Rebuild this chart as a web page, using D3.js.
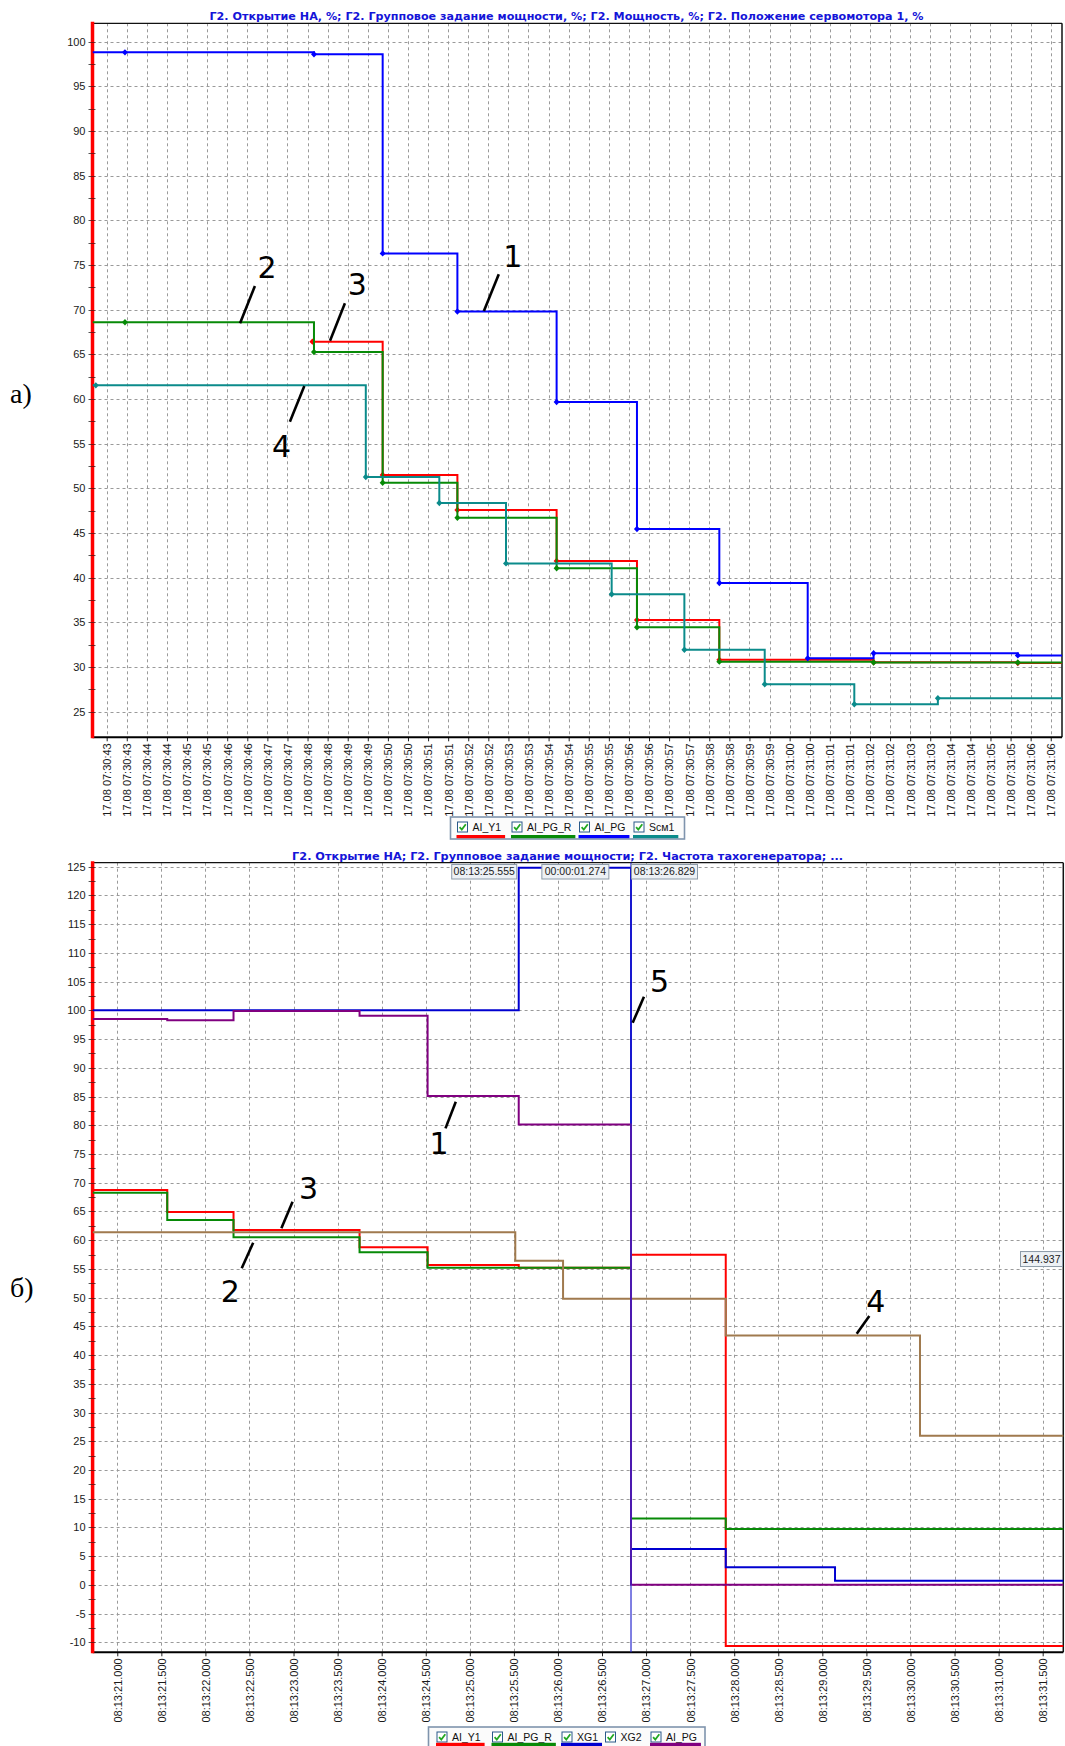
<!DOCTYPE html>
<html><head><meta charset="utf-8">
<script src="https://cdn.jsdelivr.net/npm/d3@7"></script>
<style>body{margin:0;background:#fff} svg{display:block}</style>
</head><body>
<svg id="c" width="1065" height="1746"></svg>
<script>
// ---------------- DATA ----------------
// Panel a) : time in seconds after 17.08 07:30:43.000
const topTitle = "Г2. Открытие НА, %; Г2. Групповое задание мощности, %; Г2. Мощность, %; Г2. Положение сервомотора 1, %";
const topTickLabels = ["17.08 07:30:43","17.08 07:30:43","17.08 07:30:44","17.08 07:30:44","17.08 07:30:45","17.08 07:30:45","17.08 07:30:46","17.08 07:30:46","17.08 07:30:47","17.08 07:30:47","17.08 07:30:48","17.08 07:30:48","17.08 07:30:49","17.08 07:30:49","17.08 07:30:50","17.08 07:30:50","17.08 07:30:51","17.08 07:30:51","17.08 07:30:52","17.08 07:30:52","17.08 07:30:53","17.08 07:30:53","17.08 07:30:54","17.08 07:30:54","17.08 07:30:55","17.08 07:30:55","17.08 07:30:56","17.08 07:30:56","17.08 07:30:57","17.08 07:30:57","17.08 07:30:58","17.08 07:30:58","17.08 07:30:59","17.08 07:30:59","17.08 07:31:00","17.08 07:31:00","17.08 07:31:01","17.08 07:31:01","17.08 07:31:02","17.08 07:31:02","17.08 07:31:03","17.08 07:31:03","17.08 07:31:04","17.08 07:31:04","17.08 07:31:05","17.08 07:31:05","17.08 07:31:06","17.08 07:31:06"];
const topYTicks = [25,30,35,40,45,50,55,60,65,70,75,80,85,90,95,100];
const topXDomain = [-0.353, 23.78];
const topYDomain = [22.13, 102.06];
const topAI_Y1  = [[5.12,66.42],[6.87,51.5],[8.73,47.58],[11.2,41.87],[13.2,35.26],[15.25,30.8],[19.09,30.53],[22.68,30.45]];
const topAI_PG_R = [[-0.353,68.59],[0.455,68.59],[5.16,65.26],[6.87,50.63],[8.73,46.7],[11.2,41.05],[13.2,34.45],[15.25,30.6],[19.09,30.5],[22.68,30.5]];
const topAI_PG  = [[-0.353,98.81],[0.455,98.81],[5.16,98.59],[6.87,76.3],[8.73,69.8],[11.2,59.67],[13.2,45.45],[15.25,39.4],[17.45,30.97],[19.09,31.54],[22.68,31.3]];
const topScm1   = [[-0.353,61.53],[-0.27,61.53],[6.45,51.27],[8.28,48.36],[9.94,41.6],[12.57,38.14],[14.38,31.93],[16.38,28.07],[18.61,25.83],[20.69,26.5]];
const topLegend = ["AI_Y1","AI_PG_R","AI_PG","Scм1"];
// annotations a): [label, textT, textV, lineT1, lineV1, lineT2, lineV2]
const topNotes = [["1",10.11,74.78,9.76,73.96,9.39,69.85],["2",3.99,73.55,3.69,72.65,3.32,68.48],["3",6.24,71.64,5.93,70.72,5.56,66.53],["4",4.35,53.51,4.92,61.46,4.56,57.46]];

// Panel б) : time in seconds within 08:13
const botTitle = "Г2. Открытие НА; Г2. Групповое задание мощности; Г2. Частота тахогенератора; ...";
const botTickLabels = ["08:13:21.000","08:13:21.500","08:13:22.000","08:13:22.500","08:13:23.000","08:13:23.500","08:13:24.000","08:13:24.500","08:13:25.000","08:13:25.500","08:13:26.000","08:13:26.500","08:13:27.000","08:13:27.500","08:13:28.000","08:13:28.500","08:13:29.000","08:13:29.500","08:13:30.000","08:13:30.500","08:13:31.000","08:13:31.500"];
const botYTicks = [-10,-5,0,5,10,15,20,25,30,35,40,45,50,55,60,65,70,75,80,85,90,95,100,105,110,115,120,125];
const botXDomain = [20.72, 31.734];
const botYDomain = [-11.74, 125.7];
const botAI_Y1  = [[20.72,68.72],[21.567,64.9],[22.319,61.76],[23.749,58.75],[24.521,55.67],[25.555,55.2],[26.829,57.45],[27.904,-10.64]];
const botAI_PG_R = [[20.72,68.26],[21.567,63.5],[22.319,60.5],[23.749,57.88],[24.521,55.2],[26.829,11.56],[27.904,9.73]];
const botXG1    = [[20.72,100],[25.555,124.8],[26.829,6.22],[27.904,3.05],[29.144,0.73]];
const botXG2    = [[20.72,61.36],[25.516,56.42],[26.058,49.79],[27.904,43.4],[30.108,25.96]];
const botAI_PG  = [[20.72,98.49],[21.567,98.26],[22.319,99.88],[23.749,99.07],[24.521,85.09],[25.555,80.15],[26.829,0]];
const botLegend = ["AI_Y1","AI_PG_R","XG1","XG2","AI_PG"];
const cursorTimes = [25.555, 26.829];
const cursorTexts = ["08:13:25.555","00:00:01.274","08:13:26.829"];
const readoutValue = "144.937";
const botNotes = [["1",24.650,74.99,24.841,84.09,24.724,79.46],["5",27.152,103.24,26.976,102.37,26.848,97.85],["3",23.170,67.16,22.989,66.69,22.862,62.06],["2",22.282,49.28,22.542,59.55,22.412,55.10],["4",29.607,47.54,29.533,46.79,29.390,43.71]];

// ---------------- DRAWING ----------------
const svg = d3.select('#c');
const C = {red:"#ff0000", green:"#078a07", blue:"#0000ff", teal:"#0b8b8b", dblue:"#0000d0", purple:"#800080", brown:"#a07a4e"};

function panel(o){
  const x = d3.scaleLinear().domain(o.xDomain).range([o.left, o.right]);
  const y = d3.scaleLinear().domain(o.yDomain).range([o.bottom, o.top]);
  const g = svg.append('g');
  const cid = 'clip' + o.id;
  svg.append('clipPath').attr('id', cid).append('rect')
    .attr('x', o.left).attr('y', o.top).attr('width', o.right - o.left).attr('height', o.bottom - o.top);
  const crisp = v => Math.round(v) + 0.5;
  // grid
  g.append('g').selectAll('line').data(o.yTicks).join('line')
    .attr('x1', o.left).attr('x2', o.right).attr('y1', d => crisp(y(d))).attr('y2', d => crisp(y(d)))
    .attr('stroke', '#9a9a9a').attr('stroke-dasharray', '3,3');
  g.append('g').selectAll('line').data(o.xTicks).join('line')
    .attr('y1', o.top).attr('y2', o.bottom).attr('x1', d => crisp(x(d))).attr('x2', d => crisp(x(d)))
    .attr('stroke', '#9a9a9a').attr('stroke-dasharray', '3,3');
  // border
  g.append('line').attr('x1', o.left).attr('x2', o.right).attr('y1', o.top).attr('y2', o.top).attr('stroke', '#111').attr('stroke-width', 1.2);
  g.append('line').attr('x1', o.right).attr('x2', o.right).attr('y1', o.top).attr('y2', o.bottom).attr('stroke', '#111').attr('stroke-width', 1.5);
  // y axis
  const ya = g.append('g').attr('transform', `translate(${o.left},0)`)
    .call(d3.axisLeft(y).tickValues(o.yTicks).tickSize(0).tickPadding(7).tickFormat(d => String(d)));
  ya.select('.domain').remove();
  ya.selectAll('text').attr('font-family', 'Liberation Sans, Arial, sans-serif').attr('font-size', 11).attr('fill', '#1a1a1a');
  // x axis
  const xa = g.append('g').attr('transform', `translate(0,${o.bottom})`)
    .call(d3.axisBottom(x).tickValues(o.xTicks).tickSize(4).tickFormat((d, i) => o.xLabels[i]));
  xa.select('.domain').remove();
  xa.selectAll('line').attr('stroke', '#222');
  xa.selectAll('text').attr('font-family', 'Liberation Sans, Arial, sans-serif').attr('font-size', 11).attr('fill', '#1a1a1a')
    .attr('transform', 'rotate(-90)').attr('x', -6).attr('y', 0).attr('dy', '0.35em').style('text-anchor', 'end');
  g.append('line').attr('x1', o.left).attr('x2', o.right).attr('y1', o.bottom).attr('y2', o.bottom).attr('stroke', '#000').attr('stroke-width', 2);
  // small ticks on red axis
  const minor = d3.range(o.yTicks[0], o.yTicks[o.yTicks.length - 1] + 0.01, 2.5);
  g.append('g').selectAll('line').data(minor).join('line')
    .attr('x1', o.left - 4).attr('x2', o.left + 3).attr('y1', d => crisp(y(d))).attr('y2', d => crisp(y(d))).attr('stroke', '#555');
  // red left axis
  g.append('line').attr('x1', o.left).attr('x2', o.left).attr('y1', o.top - 1.5).attr('y2', o.bottom + 1).attr('stroke', '#ff0000').attr('stroke-width', 3.5);
  g.selectAll('.rt').data(minor).join('line')
    .attr('x1', o.left - 1.8).attr('x2', o.left + 1.8).attr('y1', d => crisp(y(d))).attr('y2', d => crisp(y(d))).attr('stroke', '#7a1010').attr('stroke-width', 1);
  // title
  g.append('text').attr('x', o.titleX).attr('y', o.titleY).attr('text-anchor', 'middle')
    .attr('font-family', 'DejaVu Sans, sans-serif').attr('font-weight', 'bold').attr('font-size', 11)
    .attr('fill', '#1414d8').attr('textLength', o.titleW).attr('lengthAdjust', 'spacingAndGlyphs').text(o.title);
  // series
  const sg = g.append('g').attr('clip-path', `url(#${cid})`);
  const line = d3.line().x(d => x(d[0])).y(d => y(d[1])).curve(d3.curveStepAfter);
  o.series.forEach(s => {
    const pts = s.data.concat([[o.xDomain[1] + 0.5, s.data[s.data.length - 1][1]]]);
    sg.append('path').attr('d', line(pts)).attr('fill', 'none').attr('stroke', s.color).attr('stroke-width', s.w || 2);
    if (s.markers) {
      sg.append('g').selectAll('path').data(s.data.filter(d => d[0] > o.xDomain[0] + 0.001)).join('path')
        .attr('transform', d => `translate(${x(d[0])},${y(d[1])})`)
        .attr('d', 'M0,-3.2L3,0L0,3.2L-3,0Z').attr('fill', s.color);
    }
  });
  return {x, y, g, sg};
}

function notes(p, list){
  list.forEach(n => {
    p.g.append('line').attr('x1', p.x(n[3])).attr('y1', p.y(n[4])).attr('x2', p.x(n[5])).attr('y2', p.y(n[6]))
      .attr('stroke', '#000').attr('stroke-width', 2.6);
    p.g.append('text').attr('x', p.x(n[1])).attr('y', p.y(n[2])).attr('text-anchor', 'middle')
      .attr('font-family', 'DejaVu Sans, sans-serif').attr('font-size', 30).attr('fill', '#000').text(n[0]);
  });
}

function legend(items, starts, bx, by, bw, bh, ulY){
  const lg = svg.append('g');
  lg.append('rect').attr('x', bx).attr('y', by).attr('width', bw).attr('height', bh)
    .attr('fill', '#fbfbfb').attr('stroke', '#7f94ad').attr('stroke-width', 1.6);
  items.forEach((it, i) => {
    const cx = starts[i];
    const cy = by + 4.5;
    lg.append('rect').attr('x', cx + 0.5).attr('y', cy + 0.5).attr('width', 10).attr('height', 10)
      .attr('fill', '#fff').attr('stroke', '#2a5a8a');
    lg.append('path').attr('d', `M${cx+2.6},${cy+5.6}L${cx+4.8},${cy+8}L${cx+8.8},${cy+2.8}`)
      .attr('fill', 'none').attr('stroke', '#22a822').attr('stroke-width', 1.8);
    const t = lg.append('text').attr('x', cx + 15.5).attr('y', cy + 9.5)
      .attr('font-family', 'Liberation Sans, Arial, sans-serif').attr('font-size', 10.5).attr('fill', '#111').text(it.name);
    const w = t.node().getComputedTextLength();
    if (it.color) lg.append('rect').attr('x', cx - 0.5).attr('y', ulY - 1.5).attr('width', w + 20).attr('height', 3.2).attr('fill', it.color);
  });
}

function box(xl, yt, w, h, text){
  svg.append('rect').attr('x', xl + 0.5).attr('y', yt + 0.5).attr('width', w).attr('height', h)
    .attr('fill', '#edf1f5').attr('stroke', '#8c9aa8');
  svg.append('text').attr('x', xl + w / 2 + 0.5).attr('y', yt + h / 2 + 4)
    .attr('text-anchor', 'middle').attr('font-family', 'Liberation Sans, Arial, sans-serif').attr('font-size', 10.5)
    .attr('fill', '#222').text(text);
}

// ----- panel a)
const pA = panel({
  id: 'a', left: 92.5, right: 1062, top: 23.3, bottom: 737.3,
  xDomain: topXDomain, yDomain: topYDomain, yTicks: topYTicks,
  xTicks: topTickLabels.map((d, i) => i * 0.5), xLabels: topTickLabels,
  title: topTitle, titleX: 566.5, titleY: 20, titleW: 714,
  series: [
    {data: topAI_Y1, color: C.red, markers: true},
    {data: topAI_PG_R, color: C.green, markers: true},
    {data: topAI_PG, color: C.blue, markers: true},
    {data: topScm1, color: C.teal, markers: true}
  ]
});
notes(pA, topNotes);
legend([{name: topLegend[0], color: C.red}, {name: topLegend[1], color: C.green}, {name: topLegend[2], color: C.blue}, {name: topLegend[3], color: C.teal}],
  [457, 511.5, 579, 633.5], 450.5, 817, 234, 22, 836.5);

// ----- panel б)
const pB = panel({
  id: 'b', left: 92.6, right: 1063.3, top: 862.7, bottom: 1652.3,
  xDomain: botXDomain, yDomain: botYDomain, yTicks: botYTicks,
  xTicks: botTickLabels.map((d, i) => 21 + i * 0.5), xLabels: botTickLabels,
  title: botTitle, titleX: 567.6, titleY: 860, titleW: 551,
  series: [
    {data: botAI_Y1, color: C.red},
    {data: botAI_PG_R, color: C.green},
    {data: botXG1, color: C.dblue},
    {data: botXG2, color: C.brown},
    {data: botAI_PG, color: C.purple}
  ]
});
// cursor line
pB.g.append('line').attr('x1', pB.x(cursorTimes[1])).attr('x2', pB.x(cursorTimes[1]))
  .attr('y1', 862.7).attr('y2', 1652.3).attr('stroke', '#2a2ad0').attr('stroke-width', 1.2);
notes(pB, botNotes);
{
  const x1 = pB.x(cursorTimes[0]), x2 = pB.x(cursorTimes[1]);
  box(x1 - 67.5, 864, 65, 14.5, cursorTexts[0]);
  box((x1 + x2) / 2 - 33.5, 864, 67, 14.5, cursorTexts[1]);
  box(x2, 864, 66, 14.5, cursorTexts[2]);
  box(1020, pB.y(56.8) - 7.5, 42, 15, readoutValue);
}
legend([{name: botLegend[0], color: C.red}, {name: botLegend[1], color: C.green}, {name: botLegend[2], color: C.dblue}, {name: botLegend[3], color: null}, {name: botLegend[4], color: C.purple}],
  [436.5, 492, 561.5, 605, 650.5], 428.5, 1727, 276.5, 24, 1744.3);

// panel letters
svg.append('text').attr('x', 10).attr('y', 403).attr('font-family', 'Liberation Serif, Times New Roman, serif').attr('font-size', 28).attr('fill', '#000').text('а)');
svg.append('text').attr('x', 10).attr('y', 1297).attr('font-family', 'Liberation Serif, Times New Roman, serif').attr('font-size', 28).attr('fill', '#000').text('б)');
</script>
</body></html>
